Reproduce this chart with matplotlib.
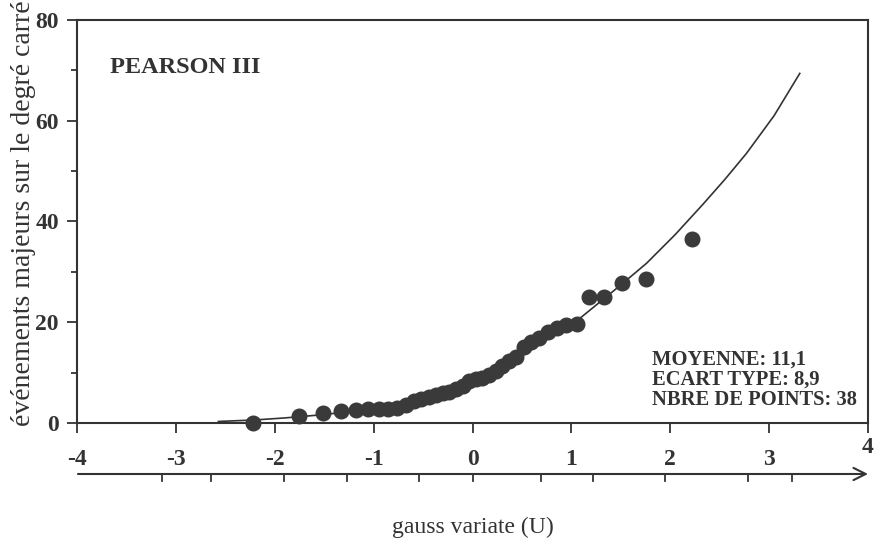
import numpy as np
import matplotlib.pyplot as plt

plt.rcParams['font.family'] = ['Liberation Serif', 'DejaVu Serif']

# observed values (gauss variate, events per square degree)
obs_u = [-2.222, -1.757, -1.508, -1.328, -1.183, -1.059, -0.950, -0.851, -0.760,
         -0.674, -0.593, -0.516, -0.443, -0.371, -0.301, -0.233, -0.166, -0.099,
         -0.033, 0.033, 0.099, 0.166, 0.233, 0.301, 0.371, 0.443, 0.516, 0.593,
         0.674, 0.760, 0.851, 0.950, 1.059, 1.183, 1.328, 1.508, 1.757, 2.222]
obs_n = [0.0, 1.3, 2.0, 2.4, 2.6, 2.7, 2.8, 2.8, 3.0,
         3.6, 4.3, 4.8, 5.2, 5.6, 5.9, 6.2, 6.7, 7.4,
         8.4, 8.7, 9.0, 9.6, 10.4, 11.4, 12.3, 13.0, 15.0, 16.0,
         16.8, 18.0, 18.8, 19.4, 19.6, 25.0, 25.0, 27.8, 28.6, 36.5]

# fitted Pearson III curve
fit_u = [-2.57, -2.2, -1.9, -1.6, -1.3, -1.0, -0.7, -0.4, -0.15, 0.05, 0.3, 0.6,
         0.85, 1.1, 1.3, 1.5, 1.76, 2.05, 2.33, 2.55, 2.77, 3.05, 3.31]
fit_n = [0.3, 0.6, 1.0, 1.5, 2.1, 2.9, 3.8, 5.0, 6.4, 7.9, 10.6, 14.6,
         17.8, 21.0, 24.2, 27.4, 31.7, 37.4, 43.4, 48.3, 53.5, 61.0, 69.4]

# ticks of the lower (probability) scale, in gauss variate units
prob_ticks = [-3.14, -2.64, -1.905, -1.27, -0.54, 0.0, 0.69, 1.22, 1.95, 2.79, 3.23]

ink = '#333333'

fig = plt.figure(figsize=(8.79, 5.42), dpi=100)
ax = fig.add_axes([0.0876, 0.2196, 0.8999, 0.7435])

ax.plot(fit_u, fit_n, color=ink, lw=1.2, zorder=2)
ax.plot(obs_u, obs_n, 'o', color='#3a3a3a', ms=10.5, mec='#3a3a3a', zorder=3, clip_on=False)

ax.set_xlim(-4, 4)
ax.set_ylim(0, 80)
ax.set_xticks(range(-4, 5))
ax.set_xticklabels(['-4', '-3', '-2', '-1', '0', '1', '2', '3', ''])
ax.set_yticks([0, 20, 40, 60, 80])
ax.set_yticks([10, 30, 50, 70], minor=True)
ax.tick_params(axis='both', which='major', direction='out', length=7, width=1.3,
               colors=ink, labelsize=17)
ax.tick_params(axis='x', which='major', pad=12)
ax.tick_params(axis='y', which='major', pad=6)
ax.tick_params(axis='y', which='minor', direction='out', length=4, width=1.3, colors=ink)
for lab in ax.get_xticklabels() + ax.get_yticklabels():
    lab.set_fontweight('bold')
for s in ax.spines.values():
    s.set_linewidth(1.5)
    s.set_color(ink)

tr = ax.get_xaxis_transform()

# the "4" sits higher, next to the arrow
ax.text(4, -0.06, '4', transform=tr, ha='center', va='center',
        fontsize=17, fontweight='bold', color=ink)

# lower probability scale with arrow
ax.annotate('', xy=(4.0, -0.1266), xytext=(-3.99, -0.1266), xycoords=tr, textcoords=tr,
            arrowprops=dict(arrowstyle='->', color=ink, lw=1.5, mutation_scale=22,
                            shrinkA=0, shrinkB=0), annotation_clip=False)
for t in prob_ticks:
    ax.plot([t, t], [-0.1266, -0.145], transform=tr, color=ink, lw=1.3, clip_on=False)

ax.text(0.0417, 0.881, 'PEARSON III', transform=ax.transAxes, fontsize=17.5,
        fontweight='bold', color=ink, va='center')
ax.text(0.727, 0.1067, 'MOYENNE: 11,1\nECART TYPE: 8,9\nNBRE DE POINTS: 38',
        transform=ax.transAxes, fontsize=14.8, fontweight='bold', color=ink,
        va='center', linespacing=1.0)

# axis titles
ax.text(0, -0.26, 'gauss variate (U)', transform=tr, fontsize=17, color=ink,
        ha='center', va='center')
fig.text(0.027, 0.606, 'événements majeurs sur le degré carré', fontsize=20, color=ink,
         rotation=90, ha='center', va='center')

plt.savefig('out.png', dpi=100)
